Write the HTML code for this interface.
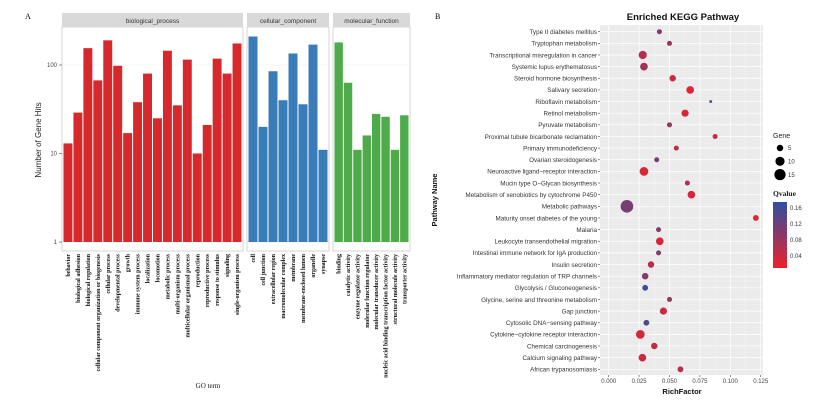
<!DOCTYPE html>
<html><head><meta charset="utf-8"><style>
body{margin:0;background:#fff}svg{display:block}
</style></head><body>
<svg id="s" width="822" height="403" xmlns="http://www.w3.org/2000/svg"></svg>
<script>
const bioCats=["behavior","biological adhesion","biological regulation","cellular component organization or biogenesis","cellular process","developmental process","growth","immune system process","localization","locomotion","metabolic process","multi-organism process","multicellular organismal process","reproduction","reproductive process","response to stimulus","signaling","single-organism process"];
const bioVals=[13,29,155,67,190,98,17,38,80,25,145,35,115,10,21,118,80,175];
const ccCats=["cell","cell junction","extracellular region","macromolecular complex","membrane","membrane-enclosed lumen","organelle","synapse"];
const ccVals=[210,20,85,40,135,36,170,11];
const mfCats=["binding","catalytic activity","enzyme regulator activity","molecular function regulator","molecular transducer activity","nucleic acid binding transcription factor activity","structural molecule activity","transporter activity"];
const mfVals=[180,63,11,16,28,26,11,27];
const yTicks=[1,10,100];
const pathways=["Type II diabetes mellitus","Tryptophan metabolism","Transcriptional misregulation in cancer","Systemic lupus erythematosus","Steroid hormone biosynthesis","Salivary secretion","Riboflavin metabolism","Retinol metabolism","Pyruvate metabolism","Proximal tubule bicarbonate reclamation","Primary immunodeficiency","Ovarian steroidogenesis","Neuroactive ligand\u2212receptor interaction","Mucin type O\u2212Glycan biosynthesis","Metabolism of xenobiotics by cytochrome P450","Metabolic pathways","Maturity onset diabetes of the young","Malaria","Leukocyte transendothelial migration","Intestinal immune network for IgA production","Insulin secretion","Inflammatory mediator regulation of TRP channels","Glycolysis / Gluconeogenesis","Glycine, serine and threonine metabolism","Gap junction","Cytosolic DNA\u2212sensing pathway","Cytokine\u2212cytokine receptor interaction","Chemical carcinogenesis","Calcium signaling pathway","African trypanosomiasis"];
const richFactor=[0.0417,0.050,0.028,0.029,0.0526,0.067,0.0839,0.0628,0.050,0.0875,0.0556,0.0395,0.029,0.0647,0.068,0.015,0.121,0.041,0.042,0.041,0.0348,0.030,0.030,0.050,0.045,0.031,0.026,0.0375,0.0277,0.059];
const geneCount=[3,3,8,7,5,7,1,6,3,3,3,3,9,3,7,19,4,3,7,3,5,5,4,3,6,4,9,5,7,4];
const qValue=[0.10,0.08,0.06,0.07,0.04,0.02,0.14,0.03,0.08,0.04,0.05,0.11,0.03,0.06,0.03,0.11,0.02,0.10,0.03,0.10,0.06,0.10,0.16,0.08,0.04,0.15,0.03,0.05,0.04,0.06];
const xTicks=[0,0.025,0.05,0.075,0.1,0.125];
const qTicks=[0.04,0.08,0.12,0.16];
const geneLegend=[5,10,15];

const S=document.getElementById('s');const NS="http://www.w3.org/2000/svg";
function el(t,a,txt){const e=document.createElementNS(NS,t);for(const k in a)e.setAttribute(k,a[k]);if(txt!==undefined)e.textContent=txt;S.appendChild(e);return e;}
// ---- Left chart
el('text',{x:25,y:19,'font-family':'Liberation Serif',  'font-size':8}, 'A');
const yTop=27,yBot=251;
const yL=v=>242-88.5*Math.log10(v);
const panels=[{x0:62,x1:243,name:'biological_process',cats:bioCats,vals:bioVals,col:'#d7282b'},{x0:247,x1:329,name:'cellular_component',cats:ccCats,vals:ccVals,col:'#3a7cb8'},{x0:333,x1:410,name:'molecular_function',cats:mfCats,vals:mfVals,col:'#4dab4a'}];
panels.forEach((p,pi)=>{
 let r=el('rect',{x:p.x0,y:yTop,width:p.x1-p.x0,height:yBot-yTop,fill:'#fff',stroke:'#bbb','stroke-width':0.6});
 
 let st=el('rect',{x:p.x0,y:13,width:p.x1-p.x0,height:14,fill:'#d9d9d9'});
 
 let stt=el('text',{x:(p.x0+p.x1)/2,y:23,'text-anchor':'middle','font-family':'Liberation Sans','font-size':6.5,fill:'#333'},p.name);
 
 yTicks.forEach(t=>{el('line',{x1:p.x0,x2:p.x1,y1:yL(t),y2:yL(t),stroke:'#eee','stroke-width':0.6});});
 const w=(p.x1-p.x0-2)/p.cats.length;
 p.cats.forEach((c,i)=>{
  const x=p.x0+1+i*w;const y=yL(p.vals[i]);
  let b=el('rect',{x:x+0.5,y:y,width:w-1,height:242-y,fill:p.col});
  
  let tx=x+w/2+2;
  let lb=el('text',{x:0,y:0,transform:`translate(${tx},254) rotate(-90)`,'text-anchor':'end','font-family':'Liberation Serif','font-size':6,'font-weight':'bold',fill:'#111'},c);
  
 });
});
yTicks.forEach(t=>{let l=el('text',{x:57,y:yL(t)+2,'text-anchor':'end','font-family':'Liberation Sans','font-size':6,fill:'#444'},String(t));
 el('line',{x1:59,x2:62,y1:yL(t),y2:yL(t),stroke:'#444','stroke-width':0.6});});
let yt=el('text',{x:0,y:0,transform:'translate(41,140) rotate(-90)','text-anchor':'middle','font-family':'Liberation Sans','font-size':8,fill:'#222'},'Number of Gene Hits');

let xt=el('text',{x:208,y:388,'text-anchor':'middle','font-family':'Liberation Serif','font-size':7,fill:'#111'},'GO term');


// ---- Right chart
el('text',{x:435,y:19,'font-family':'Liberation Serif','font-size':8},'B');
let tt=el('text',{x:683,y:20,'text-anchor':'middle','font-family':'Liberation Sans','font-size':9.5,'font-weight':'bold',fill:'#111'},'Enriched KEGG Pathway');

const px0=600,px1=763,py0=25,py1=375;
const xR=v=>608.7+v/0.025*30.4;
const yR=i=>31.7+i*(369.3-31.7)/(pathways.length-1);
let bg=el('rect',{x:px0,y:py0,width:px1-px0,height:py1-py0,fill:'#ebebeb'});

xTicks.forEach((t,i)=>{
 if(i<xTicks.length-1)el('line',{x1:xR(t+0.0125),x2:xR(t+0.0125),y1:py0,y2:py1,stroke:'#f6f6f6','stroke-width':0.4});
 el('line',{x1:xR(t),x2:xR(t),y1:py0,y2:py1,stroke:'#fff','stroke-width':0.7});
 el('line',{x1:xR(t),x2:xR(t),y1:py1,y2:py1+2,stroke:'#444','stroke-width':0.6});
 let l=el('text',{x:xR(t),y:py1+8,'text-anchor':'middle','font-family':'Liberation Sans','font-size':6,fill:'#444'},t.toFixed(3));
 
});
pathways.forEach((p,i)=>{
 el('line',{x1:px0,x2:px1,y1:yR(i),y2:yR(i),stroke:'#fff','stroke-width':0.7});
 el('line',{x1:px0-2,x2:px0,y1:yR(i),y2:yR(i),stroke:'#444','stroke-width':0.6});
 let l=el('text',{x:px0-3,y:yR(i)+2.3,'text-anchor':'end','font-family':'Liberation Sans','font-size':6.3,fill:'#333'},p);
 
});
function qcol(q){let t=Math.max(0,Math.min(1,(q-0.01)/0.165));const a=[238,32,44],b=[44,80,160];return `rgb(${a.map((v,k)=>Math.round(v+(b[k]-v)*t)).join(',')})`;}
const rad=g=>1.45*Math.sqrt(g);
pathways.forEach((p,i)=>{
 let c=el('circle',{cx:xR(richFactor[i]),cy:yR(i),r:rad(geneCount[i]),fill:qcol(qValue[i])});
 
});
let yt2=el('text',{x:0,y:0,transform:'translate(437,200) rotate(-90)','text-anchor':'middle','font-family':'Liberation Sans','font-size':7.5,'font-weight':'bold',fill:'#111'},'Pathway Name');

let xt2=el('text',{x:682,y:394,'text-anchor':'middle','font-family':'Liberation Sans','font-size':7.5,'font-weight':'bold',fill:'#111'},'RichFactor');

// legend
let gl=el('text',{x:773,y:138,'font-family':'Liberation Sans','font-size':7,fill:'#222'},'Gene');

geneLegend.forEach((g,i)=>{const y=148+i*13.3;
 let c=el('circle',{cx:780,cy:y,r:rad(g),fill:'#000'});
 el('text',{x:788,y:y+2.2,'font-family':'Liberation Sans','font-size':6,fill:'#333'},String(g));});
let ql=el('text',{x:773,y:196,'font-family':'Liberation Serif','font-size':7.5,'font-weight':'bold',fill:'#222'},'Qvalue');

const defs=el('defs',{});const lg=document.createElementNS(NS,'linearGradient');lg.setAttribute('id','qg');lg.setAttribute('x1','0');lg.setAttribute('y1','1');lg.setAttribute('x2','0');lg.setAttribute('y2','0');
[[0,qcol(0.01)],[1,qcol(0.175)]].forEach(([o,c])=>{const s=document.createElementNS(NS,'stop');s.setAttribute('offset',o);s.setAttribute('stop-color',c);lg.appendChild(s);});defs.appendChild(lg);
let cb=el('rect',{x:773,y:202,width:14,height:66,fill:'url(#qg)'});
qTicks.forEach(q=>{const y=268-(q-0.01)/0.0025;el('text',{x:790,y:y+2.2,'font-family':'Liberation Sans','font-size':6,fill:'#333'},q.toFixed(2));});
</script>
</body></html>
